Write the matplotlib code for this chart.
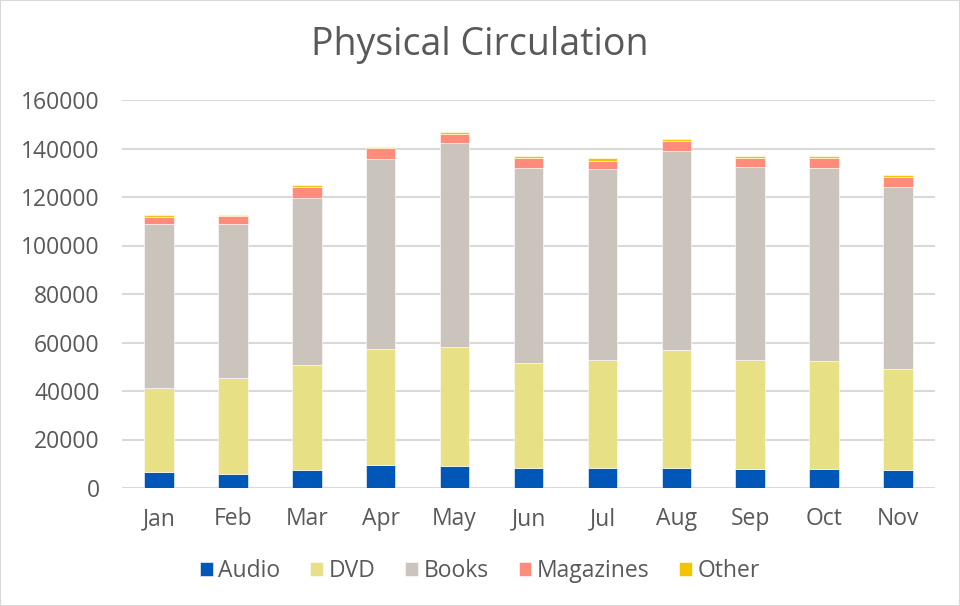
import matplotlib
matplotlib.use("Agg")
import matplotlib.pyplot as plt
import numpy as np
from matplotlib.patches import Rectangle

months = ["Jan", "Feb", "Mar", "Apr", "May", "Jun", "Jul", "Aug", "Sep", "Oct", "Nov"]
audio = [6600, 5800, 7300, 9500, 9200, 8400, 8400, 8100, 7800, 7700, 7600]
dvd = [34600, 39700, 43400, 47700, 49100, 43300, 44400, 48800, 45000, 44500, 41500]
books = [67700, 63500, 69000, 78300, 84000, 80300, 78600, 82200, 79600, 79900, 74900]
magazines = [3000, 3200, 4500, 4600, 3700, 4000, 3600, 4100, 3800, 4000, 4200]
other = [500, 500, 600, 500, 800, 800, 1000, 700, 600, 700, 700]

series = [("Audio", audio, "#0057B8"), ("DVD", dvd, "#E8E085"),
          ("Books", books, "#CBC4BC"), ("Magazines", magazines, "#FF8B7B"),
          ("Other", other, "#F2C500")]

plt.rcParams['font.family'] = ['Open Sans', 'DejaVu Sans']
text_color = "#595959"

fig = plt.figure(figsize=(9.6, 6.06), dpi=100)
ax = fig.add_axes([122/960, 1-488/606, (935-122)/960, 388/606])

x = np.arange(len(months))
bottom = np.zeros(len(months))
handles = []
for name, vals, col in series:
    v = np.array(vals, dtype=float)
    b = ax.bar(x, v, 0.40, bottom=bottom, color=col, label=name, zorder=3,
               edgecolor="white", linewidth=0.4)
    bottom += v
    handles.append(b)

ax.set_xlim(-0.5, len(months) - 0.5)
ax.set_ylim(0, 160000)
ax.set_yticks(np.arange(0, 160001, 20000))
ax.set_xticks(x)
ax.set_xticklabels(months)
ax.yaxis.grid(True, color="#D9D9D9", linewidth=1.5, zorder=0)
ax.set_axisbelow(True)
for s in ax.spines.values():
    s.set_visible(False)
ax.tick_params(axis='both', length=0, colors=text_color, labelsize=16.5)
ax.tick_params(axis='y', pad=16)
ax.tick_params(axis='x', pad=14)

fig.text(0.5, 1-45/606, "Physical Circulation", ha="center", va="center",
         fontsize=27, color=text_color)

leg = fig.legend(handles=handles, labels=[s[0] for s in series], loc="center",
                 bbox_to_anchor=(0.5, 1-571/606), ncol=5, frameon=False,
                 fontsize=16.5, handlelength=0.55, handleheight=0.55,
                 handletextpad=0.25, columnspacing=1.3, labelcolor=text_color)

fig.patches.append(Rectangle((0, 0), 1, 1, transform=fig.transFigure,
                             fill=False, edgecolor="#D9D9D9", linewidth=1.5))

fig.savefig("out.png", dpi=100)
